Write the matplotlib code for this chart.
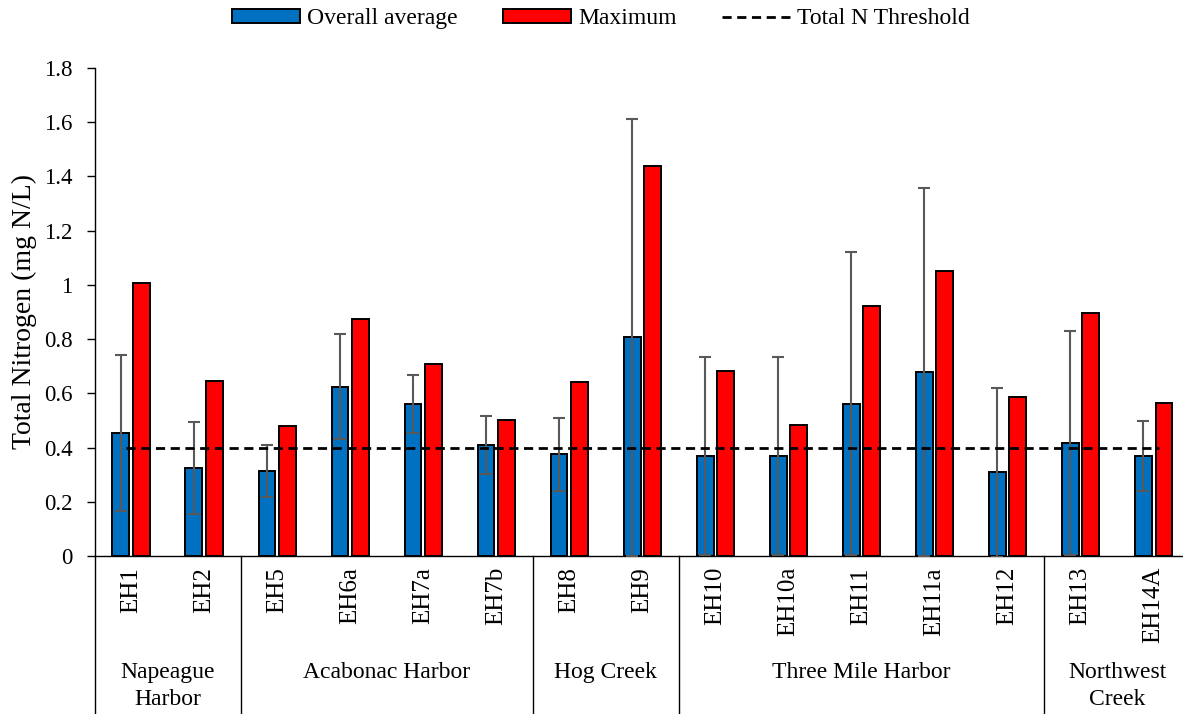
"""
Total nitrogen at East Hampton sampling stations.

Bars show the overall average (with standard deviation) and the maximum
for each station, grouped by water body, against the total N threshold.
"""

import matplotlib
matplotlib.use("Agg")
import matplotlib.pyplot as plt
from matplotlib.lines import Line2D
from matplotlib.patches import Patch
from matplotlib.ticker import FuncFormatter, MultipleLocator
import matplotlib.transforms as mtransforms


# Station names (in plotting order)
STATIONS = ["EH1", "EH2", "EH5", "EH6a", "EH7a", "EH7b", "EH8", "EH9",
            "EH10", "EH10a", "EH11", "EH11a", "EH12", "EH13", "EH14A"]

# Water bodies and how many stations belong to each
GROUPS = ["Napeague\nHarbor", "Acabonac Harbor", "Hog Creek",
          "Three Mile Harbor", "Northwest\nCreek"]
GROUP_SIZES = [2, 4, 2, 5, 2]

# Total nitrogen, mg N/L
AVERAGE = [0.454, 0.326, 0.314, 0.625, 0.561, 0.410, 0.375, 0.806,
           0.369, 0.369, 0.562, 0.678, 0.309, 0.416, 0.370]
STD_DEV = [0.287, 0.170, 0.095, 0.194, 0.107, 0.107, 0.135, 0.805,
           0.366, 0.366, 0.560, 0.679, 0.312, 0.414, 0.129]
MAXIMUM = [1.006, 0.647, 0.480, 0.875, 0.708, 0.503, 0.642, 1.438,
           0.684, 0.484, 0.922, 1.050, 0.588, 0.895, 0.566]

THRESHOLD = 0.4

BLUE = "#0070C0"
RED = "#FF0000"
ERR_GRAY = "#595959"
DASH = (0, (3.3, 2.0))


def plot_nitrogen() -> None:
    """Draws the grouped bar chart and saves it to out.png."""
    plt.rcParams["font.family"] = ["Liberation Serif", "DejaVu Serif"]

    fig = plt.figure(figsize=(11.83, 7.14), dpi=100)
    # the category axis runs slightly past the right edge of the figure
    ax = fig.add_axes([0.0799, 0.2213, 0.9262, 0.6835])

    n = len(STATIONS)
    x = list(range(n))
    width = 0.23
    offset = 0.14

    ax.bar([i - offset for i in x], AVERAGE, width, color=BLUE,
           edgecolor="black", linewidth=1.4, zorder=2)
    ax.bar([i + offset for i in x], MAXIMUM, width, color=RED,
           edgecolor="black", linewidth=1.4, zorder=2)
    ax.errorbar([i - offset for i in x], AVERAGE, yerr=STD_DEV, fmt="none",
                ecolor=ERR_GRAY, elinewidth=1.5, capsize=4.3,
                capthick=1.5, zorder=3)

    # threshold line across all stations
    ax.plot([x[0] - 0.07, x[-1] + 0.07], [THRESHOLD, THRESHOLD],
            color="black", linestyle=DASH, linewidth=2.0, zorder=4)

    ax.set_xlim(-0.5, n - 0.5)
    ax.set_ylim(0, 1.8)
    ax.yaxis.set_major_locator(MultipleLocator(0.2))
    ax.yaxis.set_major_formatter(FuncFormatter(lambda v, _: f"{v:g}"))
    ax.tick_params(axis="y", direction="out", length=6, width=1,
                   labelsize=16.5, pad=10)
    ax.set_ylabel("Total Nitrogen (mg N/L)", fontsize=20, labelpad=5)

    ax.set_xticks(x)
    ax.set_xticklabels(STATIONS, rotation=90, fontsize=18)
    ax.tick_params(axis="x", length=0, pad=8)

    for side in ("top", "right"):
        ax.spines[side].set_visible(False)
    for side in ("left", "bottom"):
        ax.spines[side].set_linewidth(1.0)

    # group labels and separators below the category axis
    trans = mtransforms.blended_transform_factory(ax.transData, ax.transAxes)
    start = -0.5
    bounds = [start]
    for name, size in zip(GROUPS, GROUP_SIZES):
        mid = start + size / 2
        ax.text(mid, -0.218, name, transform=trans, ha="center",
                va="top", fontsize=17, linespacing=1.35)
        start += size
        bounds.append(start)
    for b in bounds:
        ax.add_line(Line2D([b, b], [0, -0.33], transform=trans,
                           color="black", linewidth=1.0, clip_on=False))

    handles = [
        Patch(facecolor=BLUE, edgecolor="black", linewidth=1.4),
        Patch(facecolor=RED, edgecolor="black", linewidth=1.4),
        Line2D([0], [0], color="black", linestyle=DASH, linewidth=2.0),
    ]
    fig.legend(handles, ["Overall average", "Maximum", "Total N Threshold"],
               loc="upper center", bbox_to_anchor=(0.508, 1.018), ncol=3,
               frameon=False, fontsize=17, handlelength=2.9,
               handleheight=0.5, columnspacing=1.9, handletextpad=0.3)

    fig.savefig("out.png", dpi=100)


def main() -> None:
    """Entry point."""
    plot_nitrogen()


if __name__ == "__main__":
    main()
